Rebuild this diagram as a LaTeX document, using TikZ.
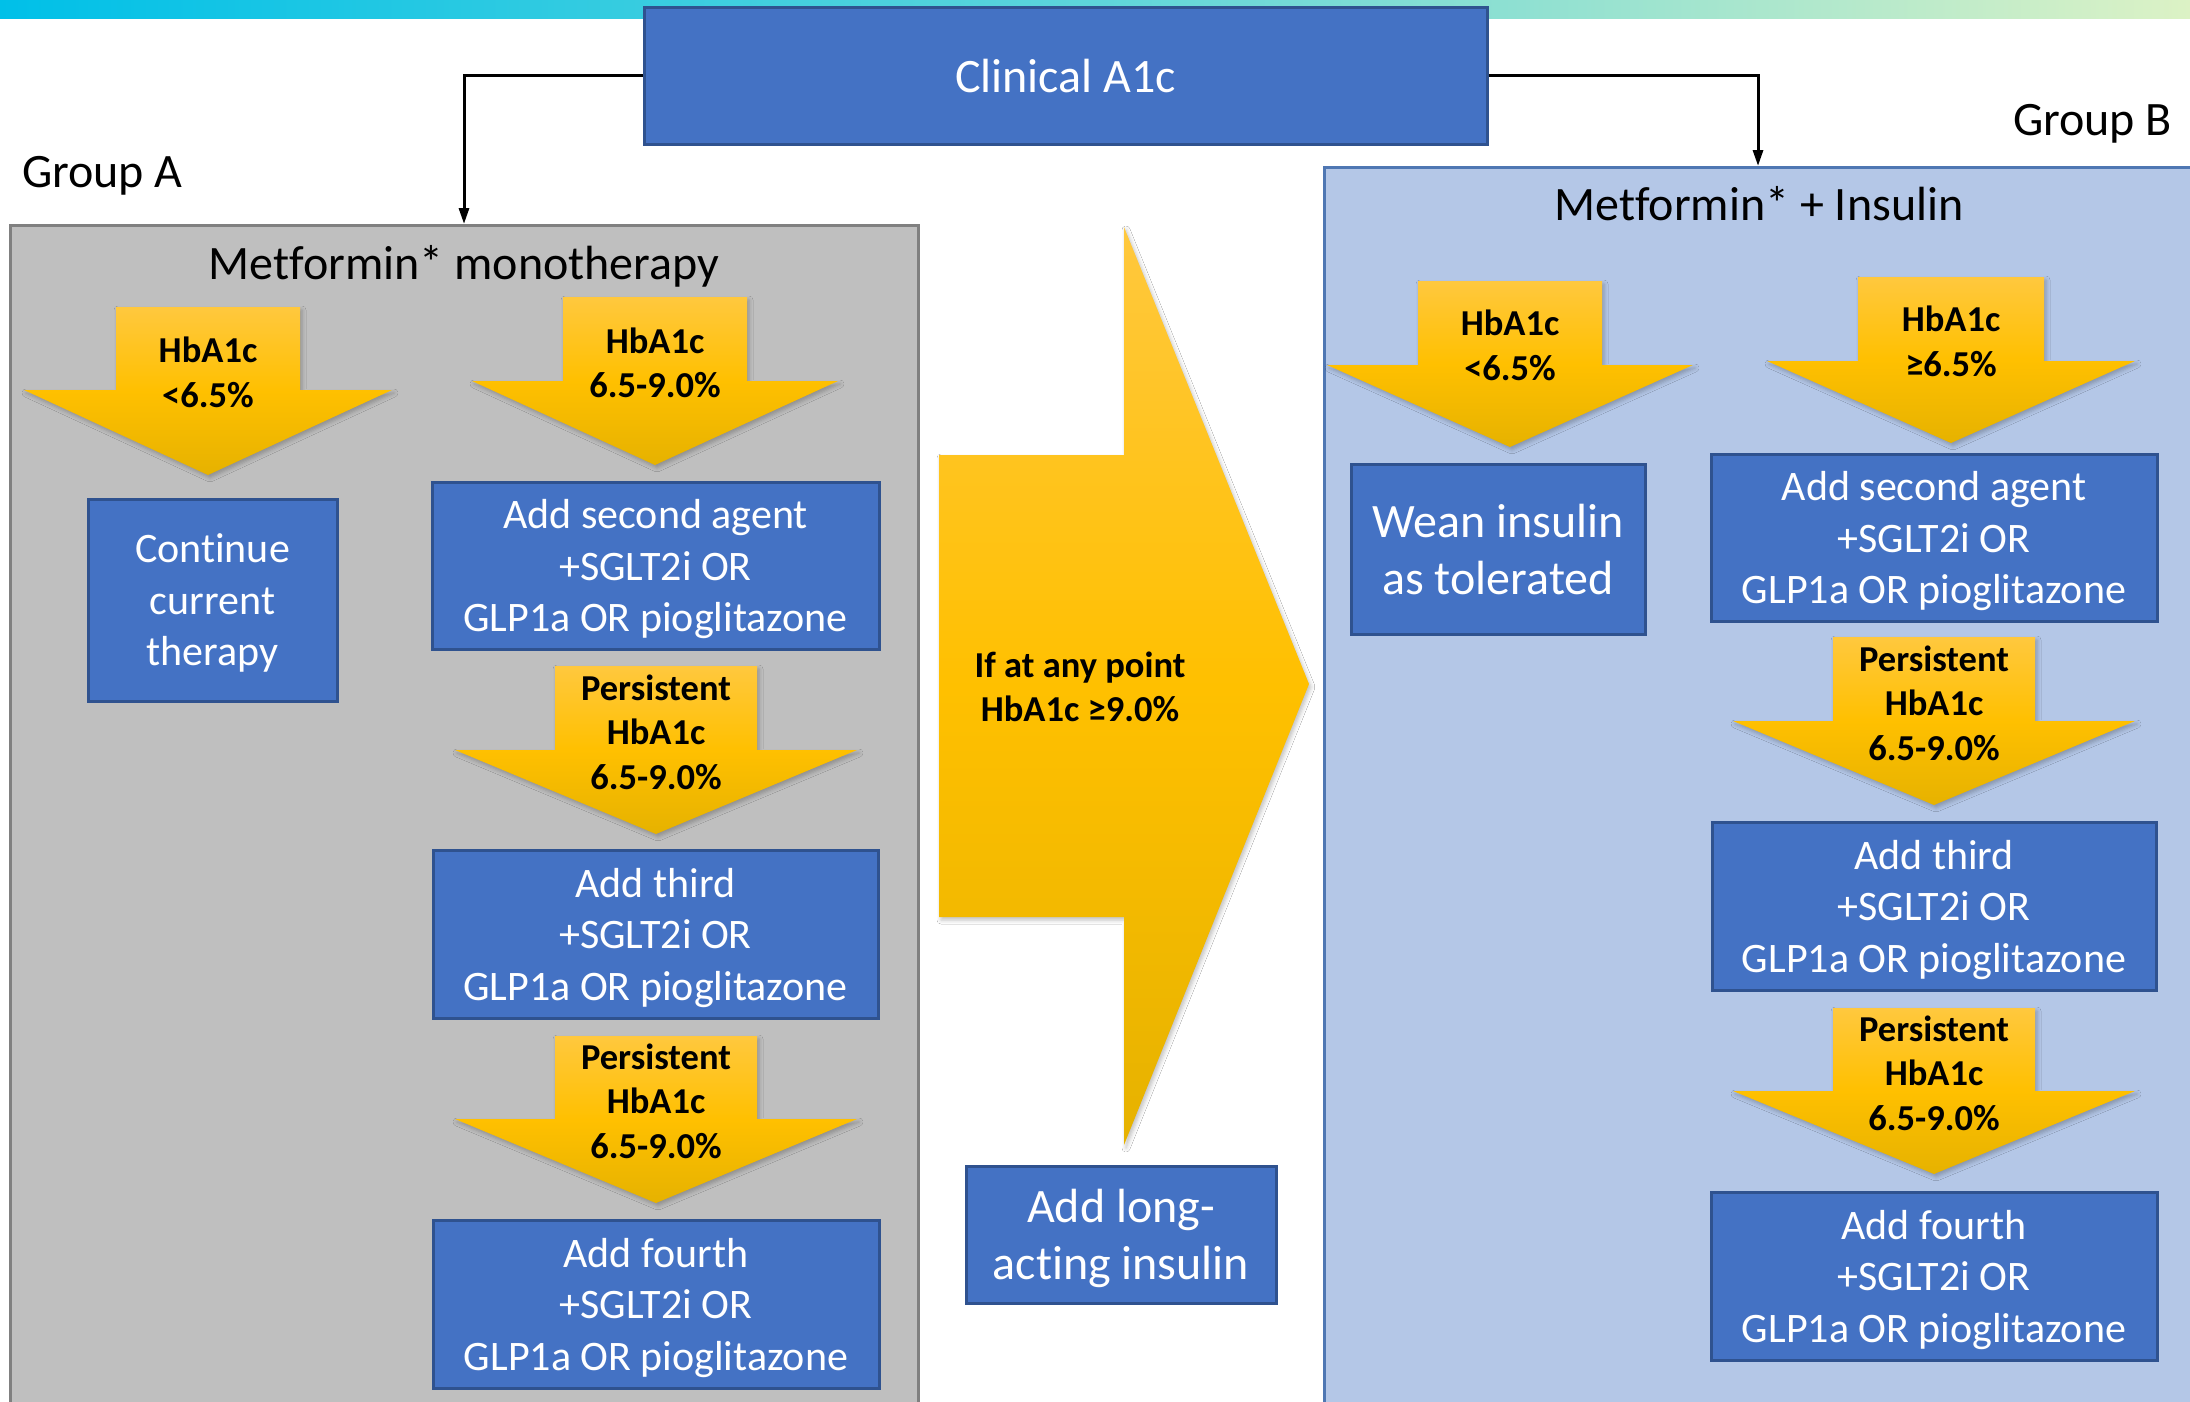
\documentclass[tikz,border=0pt]{standalone}
\usepackage{fontspec}
\setmainfont{Carlito}[Ligatures=NoCommon]
\usetikzlibrary{arrows.meta,shadows.blur}
\definecolor{boxblue}{HTML}{4472C4}
\definecolor{boxedge}{HTML}{2F528F}
\definecolor{panelgray}{HTML}{BFBFBF}
\definecolor{grayedge}{HTML}{808080}
\definecolor{panelblue}{HTML}{B4C7E7}
\definecolor{blueedge}{HTML}{4F77B3}
\definecolor{ytop}{HTML}{FFC83E}
\definecolor{ymid}{HTML}{FFC000}
\definecolor{ybot}{HTML}{E6B200}
\definecolor{barleft}{HTML}{00C0E8}
\definecolor{barmid}{HTML}{5ED5DA}
\definecolor{barright}{HTML}{DCF2C5}
\tikzset{
  bluebox/.style={draw=boxedge, fill=boxblue, line width=3pt, text=white, align=center,
    inner sep=0pt, text depth=0pt, font=\fontsize{42}{51.5}\selectfont},
  bigtext/.style={font=\fontsize{48}{57}\selectfont},
  alabel/.style={align=center, inner sep=0pt, text=black,
    font=\bfseries\fontsize{36.5}{44.5}\selectfont},
  yshade/.style={top color=ytop, bottom color=ybot, middle color=ymid,
    blur shadow={shadow xshift=2pt, shadow yshift=-3pt, shadow blur radius=4pt, shadow opacity=25}},
  conn/.style={draw=black, line width=3pt, -{Triangle[length=16pt,width=10pt]}},
}
% #1 cx, #2 stem half width, #3 top, #4 wing y, #5 wing half width, #6 tip y
\newcommand{\yarrow}[6]{%
  \shade[yshade] (#1-#2,#3) -- (#1+#2,#3) -- (#1+#2,#4) -- (#1+#5,#4) -- (#1,#6)
    -- (#1-#5,#4) -- (#1-#2,#4) -- cycle;}
\begin{document}
\begin{tikzpicture}[x=1pt,y=-1pt]
\useasboundingbox (0,0) rectangle (2190,1401);
\clip (0,0) rectangle (2190,1401);
\fill[white] (0,0) rectangle (2190,1401);
% top gradient bar
\shade[left color=barleft, right color=barright, middle color=barmid] (0,0) rectangle (2190,18);

% panels
\node[draw=grayedge, fill=panelgray, line width=3pt, minimum width=908pt, minimum height=1250pt,
  anchor=north, inner sep=0pt] (pA) at (464,224) {};
\node[draw=blueedge, fill=panelblue, line width=3pt, minimum width=868pt, minimum height=1300pt,
  anchor=north, inner sep=0pt] (pB) at (1758,166) {};

% top box
\node[bluebox, bigtext, minimum width=843pt, minimum height=137pt] (clin) at (1065.5,75.5) {Clinical A1c};

% connectors
\draw[conn] (clin.west) -| (pA.north);
\draw[conn] (clin.east) -| (pB.north);

% group labels and panel titles
\node[bigtext, anchor=base west, inner sep=0pt] (gA) at (22,187) {Group A};
\node[bigtext, anchor=base west, inner sep=0pt] (gB) at (2013,135) {Group B};
\node[bigtext, anchor=base, inner sep=0pt] (tA) at (464,279) {Metformin* monotherapy};
\node[bigtext, anchor=base, inner sep=0pt] (tB) at (1759,220) {Metformin* + Insulin};

% Group A arrows
\yarrow{208}{92}{307}{390}{184}{475}
\node[alabel] (lA1) at (208,372.5) {HbA1c\\<6.5\%};
\yarrow{655}{92}{297}{381}{183}{465}
\node[alabel] (lA2) at (655,363) {HbA1c\\6.5-9.0\%};
\yarrow{656}{101}{666}{750}{201}{834}
\node[alabel] (lA3) at (656,732) {Persistent\\HbA1c\\6.5-9.0\%};
\yarrow{656}{101}{1036}{1119}{201}{1203}
\node[alabel] (lA4) at (656,1101) {Persistent\\HbA1c\\6.5-9.0\%};

% Group A boxes
\node[bluebox, minimum width=249pt, minimum height=202pt] (cont) at (212.5,600) {Continue\\current\\therapy};
\node[bluebox, minimum width=447pt, minimum height=167pt] (a2) at (655.5,565.5) {Add second agent\\+SGLT2i OR\\GLP1a OR pioglitazone};
\node[bluebox, minimum width=445pt, minimum height=168pt] (a3) at (655.5,934) {Add third\\+SGLT2i OR\\GLP1a OR pioglitazone};
\node[bluebox, minimum width=446pt, minimum height=168pt] (a4) at (656,1304) {Add fourth\\+SGLT2i OR\\GLP1a OR pioglitazone};

% middle big arrow
\shade[yshade] (939,455) -- (1124,455) -- (1124,227) -- (1309,684) -- (1124,1145) -- (1124,917) -- (939,917) -- cycle;
\node[alabel] (mid) at (1080,687) {If at any point\\HbA1c ≥9.0\%};
\node[bluebox, bigtext, minimum width=310pt, minimum height=137pt] (long) at (1121,1234.5) {Add long-\\acting insulin};

% Group B arrows
\yarrow{1510}{92}{281}{365}{183}{447}
\node[alabel] (lB1) at (1510,345.5) {HbA1c\\<6.5\%};
\yarrow{1951}{93}{277}{361}{184}{443}
\node[alabel] (lB2) at (1951,341.5) {HbA1c\\≥6.5\%};
\yarrow{1934}{101}{637}{721}{201}{805}
\node[alabel] (lB3) at (1934,703) {Persistent\\HbA1c\\6.5-9.0\%};
\yarrow{1934}{101}{1008}{1091}{201}{1174}
\node[alabel] (lB4) at (1934,1073) {Persistent\\HbA1c\\6.5-9.0\%};

% Group B boxes
\node[bluebox, bigtext, minimum width=294pt, minimum height=170pt] (wean) at (1498,549) {Wean insulin\\as tolerated};
\node[bluebox, minimum width=446pt, minimum height=167pt] (b2) at (1934,537.5) {Add second agent\\+SGLT2i OR\\GLP1a OR pioglitazone};
\node[bluebox, minimum width=444pt, minimum height=168pt] (b3) at (1934,906) {Add third\\+SGLT2i OR\\GLP1a OR pioglitazone};
\node[bluebox, minimum width=446pt, minimum height=168pt] (b4) at (1934,1276) {Add fourth\\+SGLT2i OR\\GLP1a OR pioglitazone};
\end{tikzpicture}
\end{document}
